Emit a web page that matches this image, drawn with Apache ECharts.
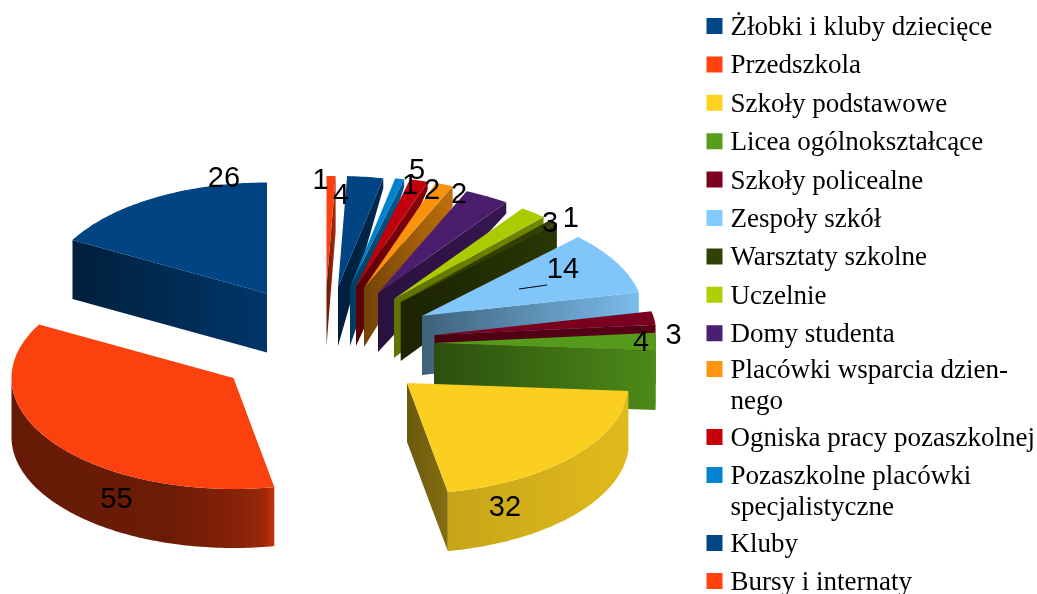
<!DOCTYPE html>
<html>
<head>
<meta charset="utf-8">
<style>html,body{margin:0;padding:0;background:#fff}#c{width:1037px;height:594px}</style>
<script src="https://cdn.jsdelivr.net/npm/echarts@6/dist/echarts.min.js"></script>
</head>
<body>
<div id="c"></div>
<script>
// ---- data ----
const categories = ['Żłobki i kluby dziecięce','Przedszkola','Szkoły podstawowe','Licea ogólnokształcące','Szkoły policealne','Zespoły szkół','Warsztaty szkolne','Uczelnie','Domy studenta','Placówki wsparcia dziennego','Ogniska pracy pozaszkolnej','Pozaszkolne placówki specjalistyczne','Kluby','Bursy i internaty'];
const values = [26,55,32,4,3,14,1,3,5,2,2,1,4,1];
// ---- style ----
const colors = ['#004586','#ff420e','#ffd320','#579d1c','#7e0021','#83caff','#314004','#aecf00','#4b1f6f','#ff950e','#c5000b','#0084d1','#004586','#ff420e'];
const wrapped = {'Placówki wsparcia dziennego':'\nPlacówki wsparcia dzien-\nnego','Pozaszkolne placówki specjalistyczne':'\nPozaszkolne placówki\nspecjalistyczne'};
const center = [326.5,287], radiusX = 222, radiusY = 111, depth = 59;
// how far each slice is pulled out of the pie
const explode = [[-59.5,6.5],[-93,91],[80.5,96],[107.5,56],[108,48],[95.5,29],[74.2,15],[67.5,12],[51.5,6],[37.5,1],[29.5,0],[23.5,0],[11.5,0],[0,0]];
// wall depth at the outer end of the side wall
const outerDrop = [59,59,59,59,59,59,25,25,11,20,8,8,10,56];
const radialShade = [[.45,.78],[.4,.6],[.42,.52],[.5,.88],[.6,.7],[.48,.93],[.55,.85],[.55,.65],[.55,.72],[.45,.75],[.45,.7],[.45,.7],[.45,.6],[.4,.65]];
const arcShade = {1:[[0,.4],[.6,.42],[.85,.52],[.96,.6],[1,.78]],2:[[0,.78],[1,.88]],3:[[0,.85],[1,.88]]};
const topShade = .98;
const labelOffset = [[-43,-115],[-117,122],[98,125],[207,0],[239,1],[141,-46],[170,-83],[156,-75],[39,-122],[95,-93],[76,-96],[60,-101],[3,-91],[-6,-106]];
const leader = [[97,-27],[125,-31]]; // short leader line of the "Zespoły szkół" label

const total = values.reduce((a,b)=>a+b,0);
const startValue = values.map((_,i)=>values.slice(0,i).reduce((a,b)=>a+b,0));

function shade(hex,f){
  const n=parseInt(hex.slice(1),16);
  return 'rgb('+[(n>>16)&255,(n>>8)&255,n&255].map(v=>Math.round(v*f)).join(',')+')';
}
function gradient(hex,stops){
  return {type:'linear',x:0,y:0,x2:1,y2:0,colorStops:stops.map(s=>({offset:s[0],color:shade(hex,s[1])}))};
}
function renderSlice(i){
  return function(params,api){
    const v=api.value(0);
    const a0=startValue[i]/total*360, a1=a0+v/total*360;
    const cx=center[0]+explode[i][0], cy=center[1]+explode[i][1];
    const pt=(deg,dy)=>{const r=deg*Math.PI/180;return [cx-radiusX*Math.sin(r),cy-radiusY*Math.cos(r)+(dy||0)];};
    const arc=(from,to,dy)=>{const o=[],n=Math.max(2,Math.ceil(Math.abs(to-from)));for(let k=0;k<=n;k++)o.push(pt(from+(to-from)*k/n,dy));return o;};
    const base=(14-i)*10, c=colors[i], children=[];
    const radial=(deg)=>{
      const P=pt(deg,0), d=outerDrop[i];
      children.push({type:'polygon',z2:base,shape:{points:[[cx,cy],P,[P[0],P[1]+d],[cx,cy+depth]]},
        style:{fill:gradient(c,[[0,radialShade[i][0]],[1,radialShade[i][1]]])}});
    };
    if(a1<=180) radial(a1);
    if(a0>=180) radial(a0);
    const from=Math.max(a0,90), to=Math.min(a1,270);
    if(to>from && arcShade[i]){
      children.push({type:'polygon',z2:base+1,shape:{points:arc(from,to,0).concat(arc(to,from,depth))},
        style:{fill:gradient(c,arcShade[i])}});
    }
    children.push({type:'polygon',z2:base+2,shape:{points:[[cx,cy]].concat(arc(a0,a1,0))},style:{fill:shade(c,topShade)}});
    children.push({type:'text',z2:1000,style:{text:String(v),x:cx+labelOffset[i][0],y:cy+labelOffset[i][1],
      align:'center',verticalAlign:'middle',fill:'#000',font:'29px "Liberation Sans"'}});
    if(i===5){
      children.push({type:'line',z2:1000,shape:{x1:cx+leader[0][0],y1:cy+leader[0][1],x2:cx+leader[1][0],y2:cy+leader[1][1]},
        style:{stroke:'#000',lineWidth:1}});
    }
    return {type:'group',children};
  };
}
const legendText={fontFamily:'Liberation Serif',fontSize:27,color:'#000',lineHeight:31,padding:[0,0,0,3]};
// square swatch sitting slightly above the middle of its text line
const swatch='path://M0 0H16V16H0Z M0 20H0.01';
function legend(names,top,gap){
  return {show:true,data:names,left:706.5,top:top,orient:'vertical',padding:0,itemGap:gap,itemWidth:16,itemHeight:20,
    icon:swatch,selectedMode:false,textStyle:legendText,formatter:n=>wrapped[n]||n};
}
const chart=echarts.init(document.getElementById('c'),null,{renderer:'canvas',width:1037,height:594});
chart.setOption({
  animation:false,
  backgroundColor:'#fff',
  tooltip:{show:false},
  legend:[
    legend(categories.slice(0,9),12.5,7.4),
    legend(categories.slice(9,10),324.5,0),
    legend(categories.slice(10,11),423.5,0),
    legend(categories.slice(11,12),430.5,0),
    legend(categories.slice(12,13),529.5,0),
    legend(categories.slice(13,14),567.5,0)
  ],
  series:categories.map((name,i)=>({
    type:'custom',name:name,coordinateSystem:'none',silent:true,
    itemStyle:{color:colors[i]},
    data:[[values[i]]],
    renderItem:renderSlice(i)
  }))
});
</script>
</body>
</html>
